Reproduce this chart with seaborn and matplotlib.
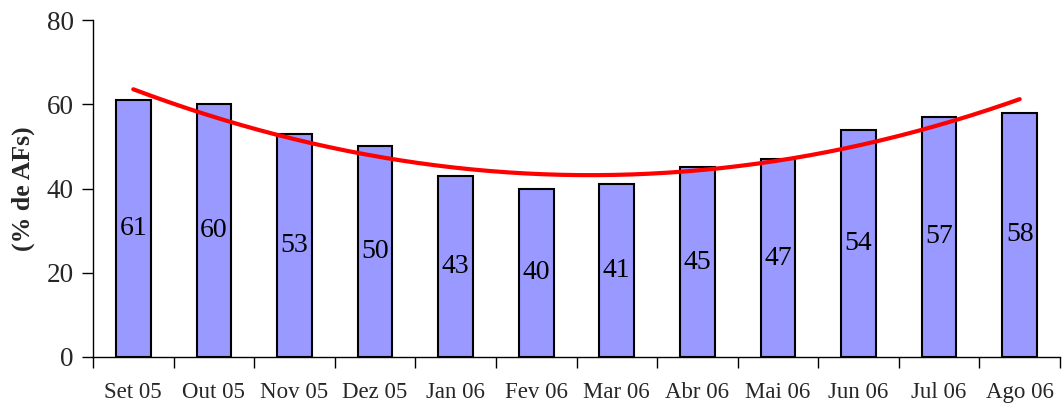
import numpy as np
import pandas as pd
import matplotlib
matplotlib.use("Agg")
import matplotlib.pyplot as plt
import seaborn as sns

months = ["Set 05", "Out 05", "Nov 05", "Dez 05", "Jan 06", "Fev 06",
          "Mar 06", "Abr 06", "Mai 06", "Jun 06", "Jul 06", "Ago 06"]
values = [61, 60, 53, 50, 43, 40, 41, 45, 47, 54, 57, 58]

sns.set_theme(style="white")
plt.rcParams['font.family'] = ['Liberation Serif', 'DejaVu Serif']

df = pd.DataFrame({"mes": months, "val": values})

fig = plt.figure(figsize=(10.63, 4.08), dpi=100)
ax = fig.add_axes([93/1063, 1 - 357/408, (1060-93)/1063, (357-20)/408])

sns.barplot(data=df, x="mes", y="val", ax=ax, color="#9999FF", saturation=1,
            width=0.43, edgecolor="black", linewidth=1.5)

# polynomial trend line computed from the data
xs = np.arange(len(values))
coef = np.polyfit(xs, values, 2)
xf = np.linspace(0, len(values) - 1, 200)
ax.plot(xf, np.polyval(coef, xf), color="#FF0000", lw=3, solid_capstyle="round")

for i, v in enumerate(values):
    ax.text(i, v / 2, str(v), ha="center", va="center", fontsize=20, color="black")

ax.set_xlim(-0.5, len(values) - 0.5)
ax.set_ylim(0, 80)
ax.set_yticks([0, 20, 40, 60, 80])
ax.set_xticks(np.arange(-0.5, len(values), 1.0), minor=False)
ax.set_xticklabels([""] * (len(values) + 1))
ax.set_xticks(np.arange(len(values)), minor=True)
ax.set_xticklabels(months, minor=True, fontsize=16.5)
ax.tick_params(axis="x", which="major", direction="out", length=8, width=1, color="black", bottom=True)
ax.tick_params(axis="x", which="minor", length=0, pad=18)
ax.tick_params(axis="y", direction="out", length=8, width=1, color="black", labelsize=19.5, left=True, pad=6)
ax.set_xlabel("")
ax.set_ylabel("(% de AFs)", fontsize=18.5, fontweight="bold", labelpad=8)
for s in ["top", "right"]:
    ax.spines[s].set_visible(False)
for s in ["left", "bottom"]:
    ax.spines[s].set_color("black")
    ax.spines[s].set_linewidth(1)

fig.savefig("out.png", dpi=100)
